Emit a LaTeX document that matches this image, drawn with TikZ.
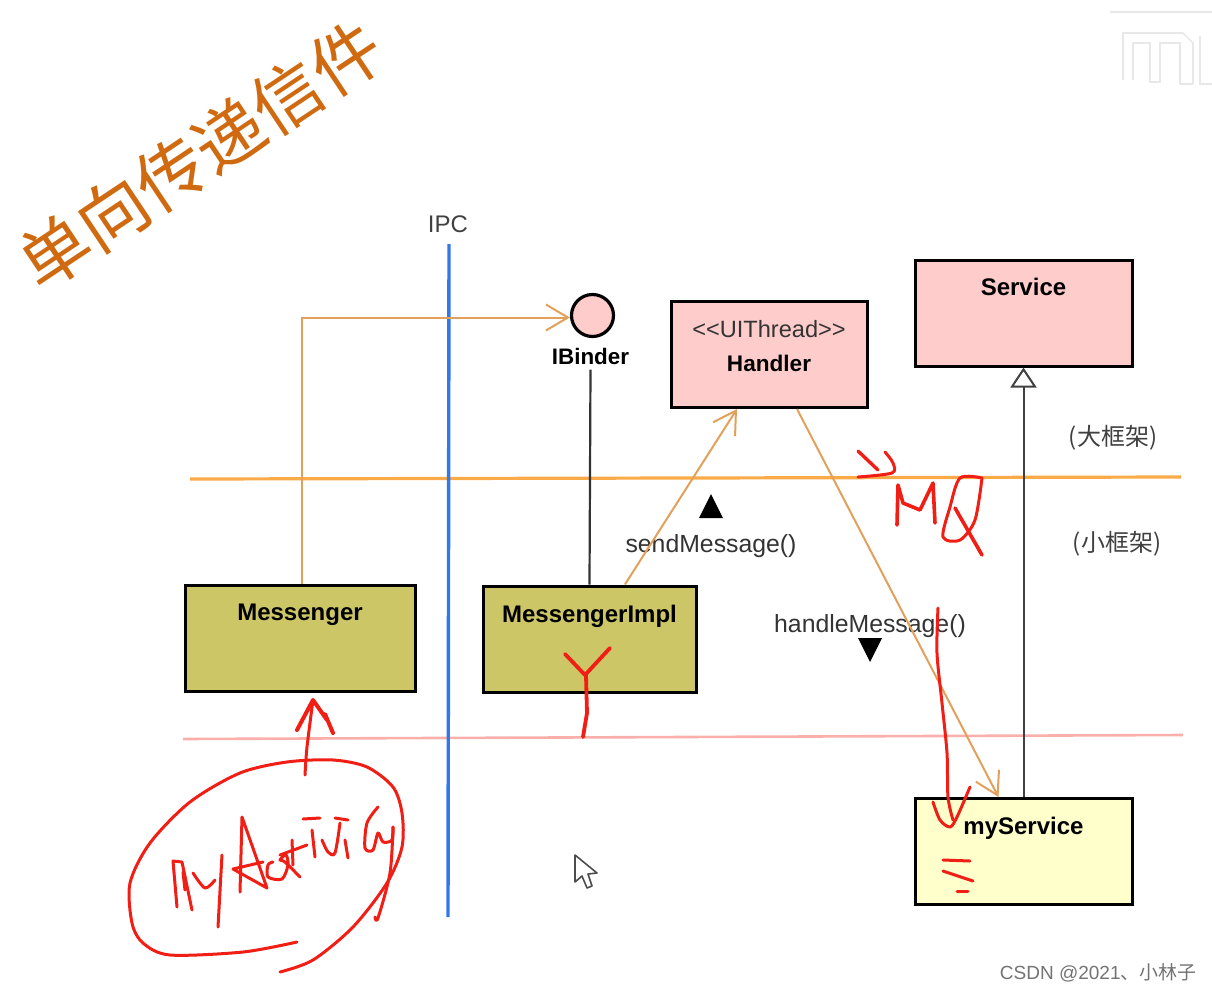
\documentclass[tikz,border=0pt]{standalone}
\usepackage{fontspec}
\setmainfont{Liberation Sans}
\newfontfamily\cjk{Noto Sans CJK SC}
\usetikzlibrary{arrows.meta,positioning}
\definecolor{boxpink}{RGB}{255,204,204}
\definecolor{boxolive}{RGB}{204,198,102}
\definecolor{boxyellow}{RGB}{255,255,204}
\definecolor{lineorange}{RGB}{226,160,90}
\definecolor{busorange}{RGB}{250,170,70}
\definecolor{buspink}{RGB}{250,175,170}
\definecolor{ipcblue}{RGB}{50,120,235}
\definecolor{inkred}{RGB}{240,30,20}
\definecolor{titleorange}{RGB}{208,106,16}
\tikzset{
	classbox/.style={rectangle,draw=black,line width=1.5pt,minimum height=53pt},
	boxlabel/.style={font=\bfseries\fontsize{12}{12}\selectfont,inner sep=0pt},
	msglabel/.style={font=\fontsize{12.4}{12.4}\selectfont,text=black!80,inner sep=0pt},
	layerlabel/.style={font=\cjk\fontsize{12}{12}\selectfont,text=black!75,inner sep=0pt},
	flow/.style={draw=lineorange,line width=1pt,-{Straight Barb[length=11pt,width=13pt]}},
	ink/.style={draw=inkred,line width=1.5pt,line cap=round,line join=round},
	logo/.style={draw=black!9,line width=0.8pt}
}
\newcommand{\inkline}[1]{\draw[ink] plot[smooth,tension=0.5] coordinates {#1};}
\begin{document}
\begin{tikzpicture}[x=0.5pt,y=-0.5pt]
	\useasboundingbox (0,0) rectangle (1212,992);
	\coordinate (busbigl) at (190,479);
	\coordinate (busbigr) at (1181,477);
	\coordinate (bussmalll) at (183,739);
	\coordinate (bussmallr) at (1183,735);
	\coordinate (ipctop) at (449,244);
	\coordinate (ipcbot) at (448,917);
	\draw[busorange,line width=1.6pt] (busbigl) -- (busbigr);
	\draw[buspink,line width=1.3pt] (bussmalll) -- (bussmallr);
	\draw[ipcblue,line width=1.7pt] (ipctop) -- (ipcbot);

	\node[rotate=33.7,font=\cjk\fontsize{35}{35}\selectfont,text=titleorange,inner sep=0pt](title) at (200,155) {单向传递信件};
	\node[font=\fontsize{12}{12}\selectfont,text=black!75,inner sep=0pt](ipc) at (448,224) {IPC};

	\node[classbox,fill=boxolive,minimum width=115pt](msgr) at (300,638) {};
	\node[classbox,fill=boxolive,minimum width=106.5pt](impl) at (589.5,639) {};
	\node[classbox,fill=boxpink,minimum width=98pt](hnd) at (769,354.5) {};
	\node[classbox,fill=boxpink,minimum width=108.5pt](srv) at (1023.5,313) {};
	\node[classbox,fill=boxyellow,minimum width=108.5pt](mysrv) at (1023.5,851.5) {};
	\node[circle,draw=black,line width=1.6pt,fill=boxpink,minimum size=21pt,inner sep=0pt](ibinder) at (592.5,315.5) {};

	\node[boxlabel,yshift=-15.5pt](msgrlbl) at (msgr.north) {Messenger};
	\node[boxlabel,yshift=-16pt](impllbl) at (impl.north) {MessengerImpl};
	\node[boxlabel,font=\bfseries\fontsize{11.3}{11.3}\selectfont,yshift=-31.5pt](hndlbl) at (hnd.north) {Handler};
	\node[msglabel,font=\fontsize{11.8}{11.8}\selectfont,yshift=-14.7pt](hndtag) at (hnd.north) {<{}<UIThread>{}>};
	\node[boxlabel,yshift=-14pt](srvlbl) at (srv.north) {Service};
	\node[boxlabel,yshift=-15.5pt](mysrvlbl) at (mysrv.north) {myService};
	\node[boxlabel,font=\bfseries\fontsize{11.2}{11.2}\selectfont,xshift=-1pt,yshift=-9pt](ibinderlbl) at (ibinder.south) {IBinder};

	\node[msglabel](sendlbl) at (711,546) {sendMessage()};
	\node[msglabel](handlelbl) at (870,626) {handleMessage()};
	\node[layerlabel](biglbl) at (1113,438) {(大框架)};
	\node[layerlabel](smalllbl) at (1117,544) {(小框架)};
	\node[font=\fontsize{9.5}{9.5}\selectfont,text=black!55,inner sep=0pt,anchor=east](mark) at (1197,973) {CSDN @2021{\cjk、小林子}};

	\draw[flow] ([xshift=1pt]msgr.north) |- ([yshift=-1pt]ibinder.west);
	\draw[flow] ([xshift=17.7pt]impl.north) -- ([xshift=-16pt]hnd.south);
	\draw[flow] ([xshift=14pt]hnd.south) -- ([xshift=-12.5pt]mysrv.north);
	\draw[black!80,line width=1.1pt] ([yshift=-2.5pt]ibinderlbl.south) -- (impl.north);
	\draw[black!75,line width=1pt,-{Triangle[open,fill=white,length=10pt,width=13pt]}] (mysrv.north) -- (srv.south);

	\fill[black] (699,518) -- (723,518) -- (711,494) -- cycle;
	\fill[black] (858,638) -- (882,638) -- (870,662) -- cycle;

	\inkline{(297,942)(243,952)(170,955)(143,943)(132,923)(130,883)(150,843)(190,802)(240,773)(287,762)(333,760)(367,767)(393,787)(402,813)(402,847)(387,883)(353,927)(313,960)(280,972)}
	\inkline{(393,827)(390,873)(378,918)(375,917)}
	\inkline{(305,775)(307,747)(313,700)}
	\draw[ink,line width=2pt] (297,730) -- (313,700) -- (327,720) -- (325,714) -- (333,733);
	\draw[ink] (177,907) -- (173,861) -- (182,862) -- (192,910);
	\draw[ink] (183,872) -- (185,890);
	\inkline{(193,873)(205,888)(215,880)}
	\draw[ink] (222,855) -- (218,927);
	\draw[ink] (240,892) -- (242,817) -- (267,888) -- (233,869) -- (263,862);
	\inkline{(273,862)(268,865)(268,877)(282,879)(288,865)(286,855)(280,860)(285,862)(300,877)}
	\draw[ink] (292,840) -- (293,865);
	\draw[ink] (280,855) -- (307,845);
	\draw[ink] (303,819) -- (320,818);
	\draw[ink] (312,830) -- (315,857);
	\inkline{(322,840)(328,852)(335,853)(340,823)}
	\draw[ink] (335,818) -- (348,820);
	\draw[ink] (345,840) -- (348,858);
	\inkline{(378,807)(367,823)(365,848)(373,850)(378,833)(383,842)(392,840)(393,827)}

	\draw[ink,line width=1.7pt] (858,451) -- (878,470);
	\inkline{(885,452)(893,463)(892,473)(858,477)}
	\draw[ink,line width=1.8pt] (897,525) -- (898,485) -- (903,503) -- (920,510) -- (933,483) -- (935,523);
	\inkline{(982,478)(960,478)(950,507)(943,537)(960,540)(975,520)(982,478)}
	\draw[ink,line width=1.8pt] (955,508) -- (982,555);
	\inkline{(938,608)(937,653)(942,703)(947,753)(948,797)(953,820)}
	\inkline{(933,802)(940,820)(950,827)(957,817)(970,787)}
	\draw[ink] (943,860) -- (970,861);
	\draw[ink] (943,871) -- (973,881);
	\draw[ink] (957,891) -- (968,891);
	\draw[ink,line width=1.9pt] (565,654) -- (585,675) -- (610,648);
	\draw[ink,line width=1.9pt] (586,675) -- (587,713) -- (583,737);

	\draw[black!70,fill=white,line width=0.8pt,line join=round] (575,855) -- (575,882) -- (582,876) -- (587,888) -- (592,886) -- (588,874) -- (597,873) -- cycle;

	\draw[logo] (1110,12) -- (1212,12);
	\draw[logo] (1123,80) -- (1123,33) -- (1183,33) -- (1193,43) -- (1193,84);
	\draw[logo] (1133,80) -- (1133,43) -- (1150,43) -- (1150,82) -- (1160,82) -- (1160,43) -- (1180,43) -- (1180,84) -- (1193,84);
	\draw[logo] (1200,36) -- (1200,84) -- (1212,84);
\end{tikzpicture}
\end{document}
